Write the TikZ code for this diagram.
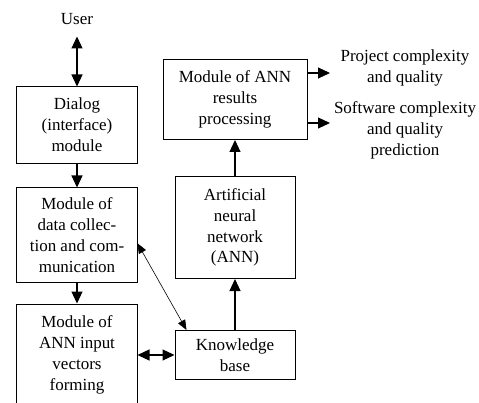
\documentclass[tikz,border=0pt]{standalone}
\usepackage{fontspec}
\setmainfont{Liberation Serif}
\usetikzlibrary{arrows.meta,positioning,calc}

\begin{document}
\begin{tikzpicture}[x=0.03cm,y=-0.03cm,
font=\fontsize{14.5}{17.8}\selectfont,
block/.style={draw,line width=0.85pt,align=center,minimum width=3.6cm,inner sep=2pt},
outtext/.style={align=center,inner sep=0pt},
arr/.style={-{Triangle[length=3.6mm,width=3.3mm]},line width=0.9pt},
darr/.style={{Triangle[length=3.6mm,width=3.3mm]}-{Triangle[length=3.6mm,width=3.3mm]},line width=0.9pt},
thinarr/.style={{Triangle[length=3mm,width=2.4mm]}-{Triangle[length=3mm,width=2.4mm]},line width=0.5pt}]
\useasboundingbox (0,0) rectangle (479,403);
\node[block,minimum height=2.28cm](dialog) at (77,125){Dialog\\(interface)\\module};
\node[inner sep=1pt,above=1.8cm of dialog](user){User};
\node[block,minimum height=2.82cm,below=0.72cm of dialog](collect){Module of\\data collec-\\tion and com-\\munication};
\node[block,minimum height=3.06cm,below=0.63cm of collect](input){Module of\\ANN input\\vectors\\forming};
\node[block,minimum height=1.47cm,inner sep=0pt,right=1.11cm of input](kb){Knowledge\\base};
\node[block,minimum height=3.06cm,above=1.53cm of kb](ann){Artificial\\neural\\network\\(ANN)};
\node[block,minimum width=4.32cm,minimum height=2.4cm,above=1.08cm of ann](results){Module of ANN\\results\\processing};
\node[outtext](project) at (405,68){Project complexity\\and quality};
\node[outtext](software) at (405,130){Software complexity\\and quality\\prediction};
\coordinate (out1) at (330,73);
\coordinate (out2) at (330,123);
\draw[darr,shorten <=0.3cm](user)--(dialog);
\draw[arr](dialog)--(collect);
\draw[arr](collect)--(input);
\draw[darr](input)--(kb);
\draw[thinarr]([yshift=-0.25cm]collect.east)--([xshift=0.36cm]kb.north west);
\draw[arr](kb)--(ann);
\draw[arr](ann)--(results);
\draw[arr](results.east |- out1)--(out1);
\draw[arr](results.east |- out2)--(out2);
\end{tikzpicture}
\end{document}
